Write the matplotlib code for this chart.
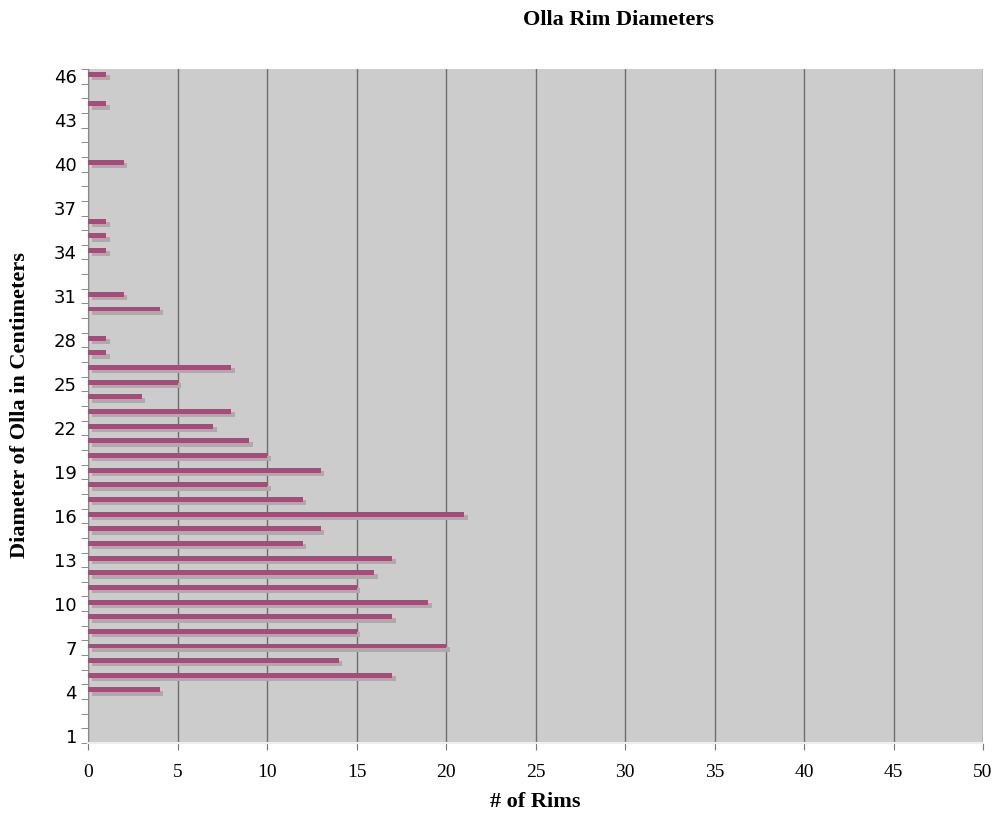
import numpy as np
import matplotlib.pyplot as plt
import matplotlib.patheffects as pe
from matplotlib.ticker import MultipleLocator, FixedLocator

# Rim diameter (cm) and number of rims measured at that diameter
diameters = np.arange(1, 47)
counts = [0, 0, 0, 4, 17, 14, 20, 15, 17, 19,
          15, 16, 17, 12, 13, 21, 12, 10, 13, 10,
          9, 7, 8, 3, 5, 8, 1, 1, 0, 4,
          2, 0, 0, 1, 1, 1, 0, 0, 0, 2,
          0, 0, 0, 1, 0, 1]
ytick_labels = [1, 4, 7, 10, 13, 16, 19, 22, 25, 28, 31, 34, 37, 40, 43, 46]

serif = ['Liberation Serif', 'DejaVu Serif']

fig = plt.figure(figsize=(9.96, 8.15), dpi=100)
ax = fig.add_axes([88 / 996, 1 - 743 / 815, (983 - 88) / 996, (743 - 69) / 815])
ax.set_facecolor('#cccccc')

bars = ax.barh(diameters + 0.12, counts, height=0.34, color='#a84a7a',
               edgecolor='none', zorder=3)
for b in bars:
    b.set_path_effects([pe.SimplePatchShadow(offset=(2.6, -2.4),
                                             shadow_rgbFace='#ababab', alpha=1.0),
                        pe.Normal()])

ax.set_xlim(0, 50)
ax.set_ylim(0.5, 46.5)
ax.xaxis.set_major_locator(MultipleLocator(5))
ax.grid(axis='x', color='#6e6e6e', linewidth=1.0, zorder=1)
ax.set_axisbelow(True)

ax.set_yticks(ytick_labels)
ax.set_yticklabels([str(v) for v in ytick_labels], fontsize=13, family='DejaVu Sans')
ax.yaxis.set_minor_locator(FixedLocator(np.arange(0.5, 47, 1)))
ax.tick_params(axis='y', which='major', length=0, pad=8)
ax.tick_params(axis='y', which='minor', length=5, color='#777777')
ax.tick_params(axis='x', length=5, color='#777777', pad=10)
for t in ax.get_xticklabels():
    t.set_fontfamily(serif)
    t.set_fontsize(14)

for s in ['top', 'right']:
    ax.spines[s].set_visible(False)
ax.spines['left'].set_color('#888888')
ax.spines['bottom'].set_color('#eeeeee')
ax.spines['bottom'].set_linewidth(1.5)

fig.text(535 / 996, 1 - 802 / 815, '# of Rims', ha='center', va='center',
         fontsize=16, fontweight='bold', family=serif)
fig.text(20 / 996, 1 - 405 / 815, 'Diameter of Olla in Centimeters', ha='center',
         va='center', rotation=90, fontsize=16, fontweight='bold', family=serif)
fig.text(618 / 996, 1 - 20 / 815, 'Olla Rim Diameters', ha='center', va='center',
         fontsize=16, fontweight='bold', family=serif)

fig.savefig('out.png', dpi=100)
